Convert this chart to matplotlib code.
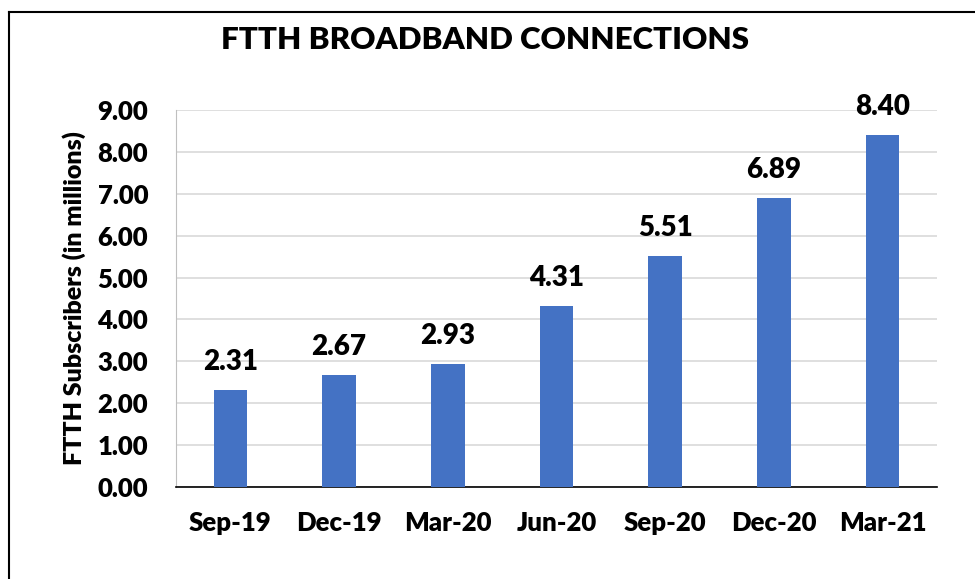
import matplotlib.pyplot as plt
import numpy as np

months = ["Sep-19", "Dec-19", "Mar-20", "Jun-20", "Sep-20", "Dec-20", "Mar-21"]
subscribers = [2.31, 2.67, 2.93, 4.31, 5.51, 6.89, 8.40]
yticks = [0, 1, 2, 3, 4, 5, 6, 7, 8, 9]

plt.rcParams['font.family'] = ['Lato', 'DejaVu Sans']
plt.rcParams['font.weight'] = 'bold'

fig = plt.figure(figsize=(9.75, 5.79), dpi=100)
ax = fig.add_axes([176 / 975, 1 - 487 / 579, 761 / 975, 377 / 579])

x = np.arange(len(months))
ax.bar(x, subscribers, width=0.31, color="#4472C4", zorder=3)
for xi, v in zip(x, subscribers):
    ax.annotate(f"{v:.2f}", (xi, v), xytext=(0, 11), textcoords="offset points",
                ha="center", va="bottom", fontsize=20, fontweight="heavy")

ax.set_xlim(-0.5, len(months) - 0.5)
ax.set_ylim(0, 9)
ax.set_yticks(yticks)
ax.set_yticklabels([f"{t:.2f}" for t in yticks], fontsize=18.5, fontweight="heavy")
ax.set_xticks(x)
ax.set_xticklabels(months, fontsize=18.5, fontweight="heavy")
ax.tick_params(length=0)
ax.tick_params(axis="y", pad=20)
ax.tick_params(axis="x", pad=17)
ax.grid(axis="y", color="#D9D9D9", linewidth=1.2, zorder=0)
ax.spines["top"].set_visible(False)
ax.spines["right"].set_visible(False)
ax.spines["left"].set_color("#BFBFBF")
ax.spines["bottom"].set_color("black")
ax.spines["bottom"].set_linewidth(1.2)
ax.set_ylabel("FTTH Subscribers (in millions)", fontsize=18, fontweight="heavy", labelpad=8)

fig.text(485 / 975, 1 - 40 / 579, "FTTH BROADBAND CONNECTIONS", ha="center", va="center",
         fontsize=22.5, fontweight="heavy")

# outer frame (left and top edges only, as in the cropped source)
fig.add_artist(plt.Line2D([9 / 975, 9 / 975], [0, 1 - 12 / 579], color="black", linewidth=1.5,
                          transform=fig.transFigure))
fig.add_artist(plt.Line2D([9 / 975, 1], [1 - 12 / 579, 1 - 12 / 579], color="black", linewidth=1.5,
                          transform=fig.transFigure))

fig.savefig("out.png", dpi=100)
